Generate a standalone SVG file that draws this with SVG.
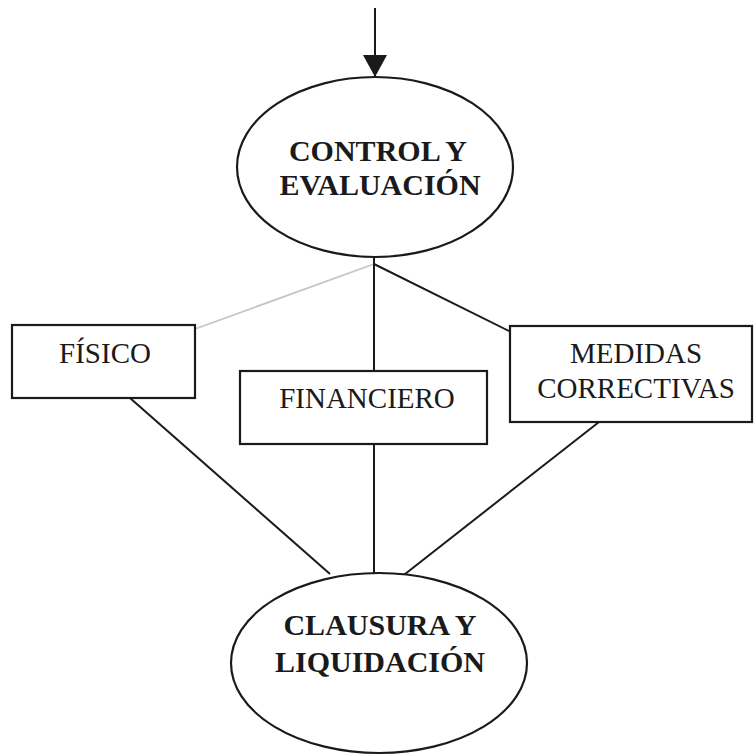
<svg xmlns="http://www.w3.org/2000/svg" width="754" height="756" viewBox="0 0 754 756">
<defs>
<style>
.shape{fill:#fff;stroke:#1a1a1a;stroke-width:2.2}
.conn{stroke:#1a1a1a;stroke-width:2;fill:none}
.light{stroke:#c4c4c4;stroke-width:1.8;fill:none}
.bold{font-family:"Liberation Serif","Times New Roman",serif;font-weight:bold;font-size:30px;fill:#1a1a1a;text-anchor:middle}
.reg{font-family:"Liberation Serif","Times New Roman",serif;font-size:29px;fill:#1a1a1a;text-anchor:middle}
</style>
<marker id="arr" viewBox="0 0 22 24" refX="22" refY="12" markerWidth="22" markerHeight="24" markerUnits="userSpaceOnUse" orient="auto">
<path d="M0,0 L22,12 L0,24 Z" fill="#1a1a1a"/>
</marker>
</defs>
<rect width="754" height="756" fill="#fff"/>
<g id="connectors">
<line class="conn" x1="375" y1="8" x2="375" y2="77" marker-end="url(#arr)"/>
<line class="light" x1="374" y1="264" x2="195" y2="329"/>
<line class="conn" x1="374" y1="258" x2="374" y2="372"/>
<line class="conn" x1="374" y1="264" x2="511" y2="332"/>
<line class="conn" x1="130" y1="398" x2="330" y2="574"/>
<line class="conn" x1="374" y1="444" x2="374" y2="580"/>
<line class="conn" x1="599" y1="422" x2="400" y2="578"/>
</g>
<g id="control">
<ellipse class="shape" cx="375" cy="167" rx="138" ry="90"/>
<text class="bold" x="378" y="161">CONTROL Y</text>
<text class="bold" x="380" y="195">EVALUACIÓN</text>
</g>
<g id="fisico">
<rect class="shape" x="12" y="325" width="183" height="73"/>
<text class="reg" x="105" y="363">FÍSICO</text>
</g>
<g id="financiero">
<rect class="shape" x="240" y="371" width="247" height="73"/>
<text class="reg" x="367" y="408">FINANCIERO</text>
</g>
<g id="medidas">
<rect class="shape" x="510" y="326" width="242" height="96"/>
<text class="reg" x="636" y="363">MEDIDAS</text>
<text class="reg" x="636" y="398">CORRECTIVAS</text>
</g>
<g id="clausura">
<ellipse class="shape" cx="379" cy="663" rx="148" ry="90"/>
<text class="bold" x="380" y="635">CLAUSURA Y</text>
<text class="bold" x="380" y="672">LIQUIDACIÓN</text>
</g>
</svg>
